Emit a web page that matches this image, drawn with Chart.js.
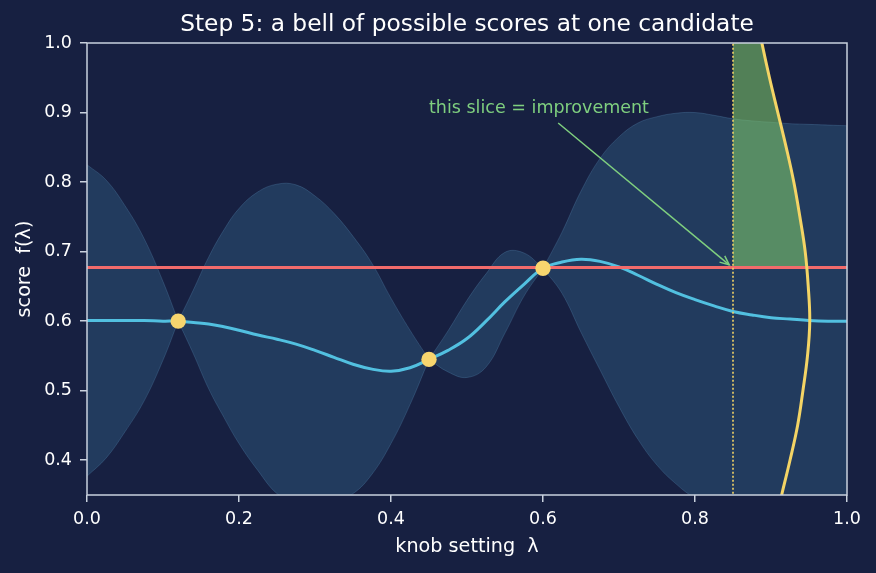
<!DOCTYPE html>
<html><head><meta charset="utf-8">
<script src="https://cdn.jsdelivr.net/npm/chart.js@4.4.1/dist/chart.umd.min.js"></script>
<style>html,body{margin:0;padding:0;background:#172041;}canvas{display:block}</style>
</head><body>
<canvas id="c" width="876" height="573"></canvas>
<script>
// ---- data ----
const xs     = [0,0.025,0.05,0.075,0.1,0.12,0.14,0.16,0.18,0.2,0.225,0.25,0.275,0.3,0.325,0.35,0.375,0.4,0.425,0.45,0.475,0.5,0.525,0.55,0.575,0.6,0.625,0.65,0.675,0.7,0.725,0.75,0.775,0.8,0.825,0.85,0.875,0.9,0.925,0.95,0.975,1.0];
const meanY  = [0.601,0.601,0.601,0.601,0.600,0.600,0.598,0.596,0.592,0.587,0.580,0.574,0.567,0.558,0.548,0.538,0.531,0.528,0.533,0.545,0.558,0.575,0.600,0.628,0.653,0.676,0.685,0.689,0.686,0.678,0.666,0.653,0.641,0.631,0.622,0.614,0.609,0.605,0.603,0.601,0.600,0.600];
const upperY = [0.825,0.803,0.766,0.719,0.657,0.600,0.645,0.692,0.731,0.762,0.786,0.797,0.796,0.780,0.755,0.722,0.683,0.633,0.587,0.545,0.586,0.630,0.668,0.699,0.698,0.676,0.728,0.787,0.834,0.865,0.885,0.894,0.899,0.900,0.896,0.891,0.888,0.886,0.884,0.883,0.882,0.881];
const lowerY = [0.377,0.403,0.441,0.485,0.544,0.600,0.553,0.503,0.462,0.424,0.385,0.352,0.338,0.337,0.342,0.352,0.380,0.424,0.480,0.545,0.527,0.519,0.534,0.583,0.636,0.676,0.640,0.584,0.530,0.477,0.430,0.393,0.366,0.346,0.338,0.335,0.330,0.325,0.322,0.320,0.320,0.319];
const obsX   = [0.12, 0.45, 0.6];
const obsY   = [0.600, 0.545, 0.676];
const bestX  = [0, 1];
const bestY  = 0.677;
const candX  = 0.85;
const candYRange = [0.30, 1.05];
const bellY  = [0.30,0.35,0.40,0.45,0.50,0.55,0.60,0.65,0.70,0.75,0.80,0.85,0.90,0.95,1.00,1.05];
const bellX  = [0.903,0.914,0.925,0.935,0.942,0.948,0.951,0.949,0.945,0.938,0.930,0.920,0.909,0.898,0.888,0.879];
const sliceY = [0.677,0.70,0.75,0.80,0.85,0.90,0.95,1.00];
const sliceX = [0.947,0.945,0.938,0.930,0.920,0.909,0.898,0.888];
const xTicks = [0,0.2,0.4,0.6,0.8,1.0];
const yTicks = [0.4,0.5,0.6,0.7,0.8,0.9,1.0];
const titleText = 'Step 5: a bell of possible scores at one candidate';
const noteText = 'this slice = improvement';
const noteAt   = [0.45, 0.90];
const arrowFrom = [0.620, 0.885];
const arrowTo   = [0.845, 0.681];

// ---- styling ----
const BG='#172041', FG='#ffffff', SPINE='#c9d1de', FONT='DejaVu Sans';
const GREEN='#7fcf7f', YELLOW='#f4d465';
const BAND_FILL='rgba(79,168,212,0.2)', BAND_EDGE='rgba(110,170,215,0.22)';
const pts = (X, Y) => X.map((x,i)=>({x, y:Y[i]}));

// band split into lobes at the observed points so each pinch stays sharp
const cuts = [0, ...obsX.map(v => xs.indexOf(v)), xs.length-1];
const bandSets = [];
for (let k = 0; k < cuts.length-1; k++) {
  const a = cuts[k], b = cuts[k+1] + 1;
  bandSets.push({label:'upper'+k, data:pts(xs.slice(a,b), upperY.slice(a,b)), showLine:true, borderColor:BAND_EDGE, borderWidth:1, pointRadius:0, tension:0.4, fill:'+1', backgroundColor:BAND_FILL});
  bandSets.push({label:'lower'+k, data:pts(xs.slice(a,b), lowerY.slice(a,b)), showLine:true, borderColor:BAND_EDGE, borderWidth:1, pointRadius:0, tension:0.4, fill:false});
}

const deco = {
  id:'deco',
  beforeDraw(chart){ const c=chart.ctx; c.save(); c.fillStyle=BG; c.fillRect(0,0,chart.width,chart.height); c.restore(); },
  afterDatasetsDraw(chart){
    const {ctx, chartArea:a, scales:{x,y}} = chart;
    ctx.save();
    ctx.font = '17.5px "DejaVu Sans"'; ctx.fillStyle = GREEN;
    ctx.textBaseline='alphabetic'; ctx.textAlign='left';
    ctx.fillText(noteText, x.getPixelForValue(noteAt[0]), y.getPixelForValue(noteAt[1]));
    const x0=x.getPixelForValue(arrowFrom[0]), y0=y.getPixelForValue(arrowFrom[1]);
    const x1=x.getPixelForValue(arrowTo[0]), y1=y.getPixelForValue(arrowTo[1]);
    const ang=Math.atan2(y1-y0,x1-x0), L=10, w=0.42;
    ctx.strokeStyle=GREEN; ctx.lineWidth=1.5;
    ctx.beginPath();
    ctx.moveTo(x1-L*Math.cos(ang-w), y1-L*Math.sin(ang-w)); ctx.lineTo(x1,y1);
    ctx.lineTo(x1-L*Math.cos(ang+w), y1-L*Math.sin(ang+w)); ctx.stroke();
    ctx.strokeStyle=SPINE; ctx.lineWidth=1.5;
    ctx.strokeRect(a.left, a.top, a.right-a.left, a.bottom-a.top);
    ctx.font = '23.3px "DejaVu Sans"'; ctx.fillStyle = FG; ctx.textAlign='center';
    ctx.fillText(titleText, (a.left+a.right)/2, 31);
    ctx.restore();
  }
};

const tickFont = {family:FONT, size:17.5};
const labFont = {family:FONT, size:19.2};
new Chart(document.getElementById('c'), {
  type:'scatter',
  data:{datasets:[
    {label:'observed', data:pts(obsX,obsY), showLine:false, pointRadius:7.7, pointHoverRadius:7.7, pointBackgroundColor:'#f7d56e', pointBorderWidth:0},
    {label:'arrow', data:[{x:arrowFrom[0],y:arrowFrom[1]},{x:arrowTo[0],y:arrowTo[1]}], showLine:true, borderColor:GREEN, borderWidth:1.5, pointRadius:0},
    {label:'bell', data:pts(bellX,bellY), showLine:true, borderColor:YELLOW, borderWidth:3, pointRadius:0, tension:0.4},
    {label:'candidate', data:candYRange.map(v=>({x:candX,y:v})), showLine:true, borderColor:YELLOW, borderWidth:1.6, borderDash:[2,2], pointRadius:0},
    {label:'best', data:bestX.map(v=>({x:v,y:bestY})), showLine:true, borderColor:'#f26b6b', borderWidth:3, pointRadius:0},
    {label:'mean', data:pts(xs,meanY), showLine:true, borderColor:'#52c0e0', borderWidth:3, pointRadius:0, tension:0.4},
    {label:'slice', data:[{x:candX,y:bestY}, ...pts(sliceX,sliceY), {x:candX,y:sliceY[sliceY.length-1]}], showLine:true, borderWidth:0, borderColor:'rgba(0,0,0,0)', pointRadius:0, fill:'shape', backgroundColor:'rgba(131,208,106,0.55)'},
    ...bandSets
  ]},
  options:{
    responsive:false, animation:false, devicePixelRatio:1,
    layout:{padding:{left:0,right:29,top:43,bottom:0}},
    plugins:{ legend:{display:false}, tooltip:{enabled:false}, title:{display:false} },
    scales:{
      x:{type:'linear', min:0, max:1,
        afterBuildTicks:s=>{s.ticks=xTicks.map(v=>({value:v}));},
        afterFit:s=>{s.height=78;},
        border:{display:false},
        grid:{display:true, drawOnChartArea:false, drawTicks:true, tickLength:7, color:SPINE, lineWidth:1.5},
        ticks:{color:FG, font:tickFont, padding:7, maxRotation:0, autoSkip:false, callback:v=>Number(v).toFixed(1)},
        title:{display:true, text:'knob setting  λ', color:FG, font:labFont, padding:{top:0,bottom:14.5}}
      },
      y:{type:'linear', min:0.35, max:1.0,
        afterBuildTicks:s=>{s.ticks=yTicks.map(v=>({value:v}));},
        afterFit:s=>{s.width=87;},
        border:{display:false},
        grid:{display:true, drawOnChartArea:false, drawTicks:true, tickLength:7, color:SPINE, lineWidth:1.5},
        ticks:{color:FG, font:tickFont, padding:8, autoSkip:false, callback:v=>Number(v).toFixed(1)},
        title:{display:true, text:'score  f(λ)', color:FG, font:labFont, padding:{top:13.5,bottom:0}}
      }
    }
  },
  plugins:[deco]
});
</script>
</body></html>
